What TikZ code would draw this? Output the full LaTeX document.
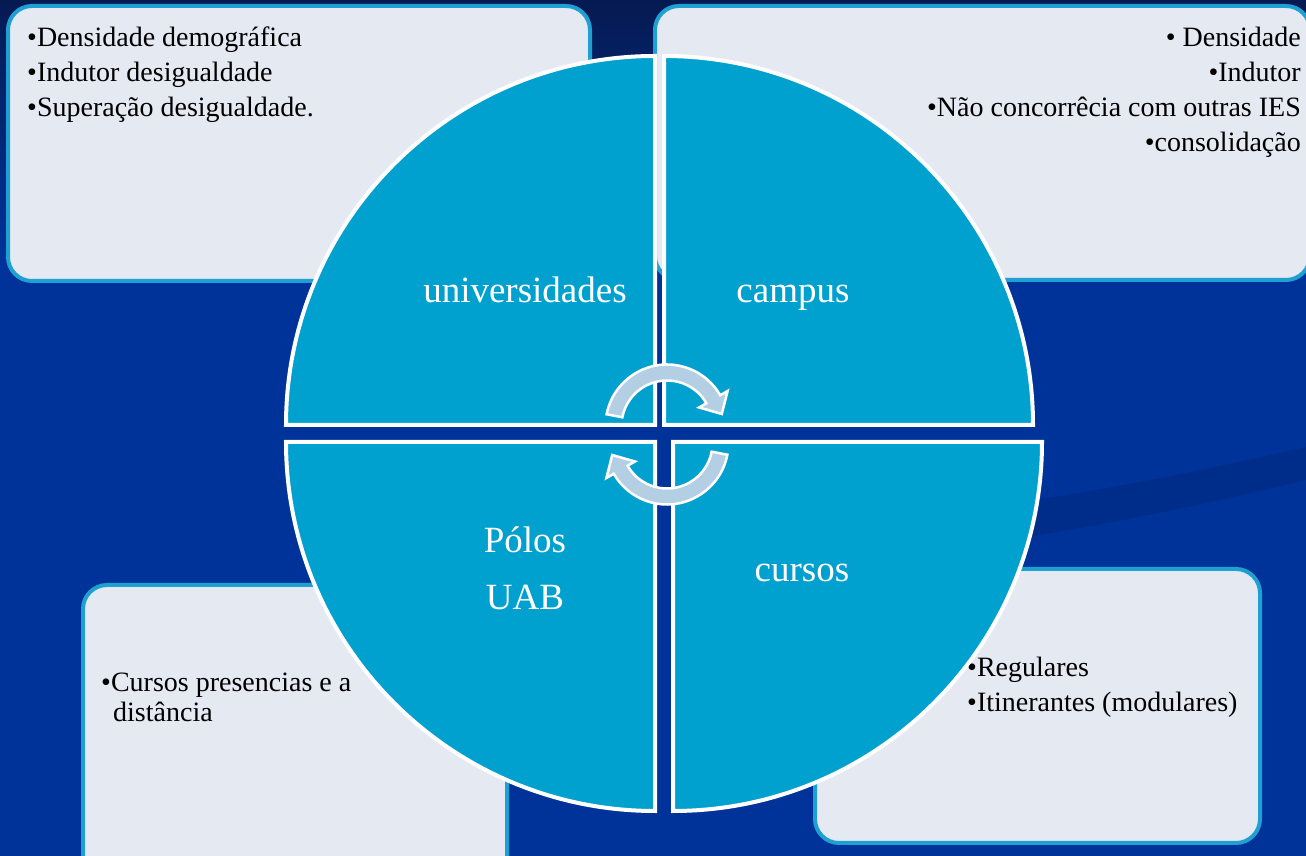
\documentclass[tikz,border=0pt]{standalone}
\usepackage{fontspec}
\setmainfont{Liberation Serif}
\definecolor{navy}{RGB}{0,51,153}
\definecolor{navytop}{RGB}{6,26,82}
\definecolor{swooshc}{RGB}{0,45,138}
\definecolor{boxfill}{RGB}{229,233,242}
\definecolor{boxline}{RGB}{30,160,210}
\definecolor{quadfill}{RGB}{0,160,207}
\definecolor{arrowfill}{RGB}{180,206,228}
\tikzset{
  infobox/.style={draw=boxline, fill=boxfill, line width=4pt, rounded corners=24pt, inner sep=0pt, outer sep=0pt},
  quad/.style={draw=white, fill=quadfill, line width=4pt, line join=miter},
  boxtext/.style={font=\fontsize{28}{35}\selectfont, text=black, inner sep=0pt},
  quadlabel/.style={font=\fontsize{37}{45}\selectfont, text=white, inner sep=0pt},
  cyclearrow/.style={draw=white, fill=arrowfill, line width=2.5pt, line join=miter},
}
\begin{document}
\begin{tikzpicture}[x=1pt,y=1pt]
\useasboundingbox (0,0) rectangle (1306,856);
\clip (0,0) rectangle (1306,856);
% background
\fill[navy] (0,0) rectangle (1306,856);
\shade[top color=navytop, bottom color=navy] (0,600) rectangle (1306,856);
\fill[swooshc] (900,300) .. controls (1050,320) and (1180,345) .. (1306,376)
  -- (1306,409) .. controls (1180,380) and (1050,355) .. (900,338) -- cycle;
% boxes
\node[infobox, anchor=south west, minimum width=582pt, minimum height=275pt] (boxTL) at (8,575) {};
\node[infobox, anchor=south west, minimum width=655pt, minimum height=274pt] (boxTR) at (655,576) {};
\node[infobox, anchor=south west, minimum width=424pt, minimum height=311pt] (boxBL) at (83,-40) {};
\node[infobox, anchor=south west, minimum width=445pt, minimum height=274pt] (boxBR) at (815,13) {};
% box texts
\node[boxtext, anchor=base west] (tl1) at (27,809) {•Densidade demográfica};
\node[boxtext, anchor=base west] (tl2) at (27,774) {•Indutor desigualdade};
\node[boxtext, anchor=base west] (tl3) at (27,739) {•Superação desigualdade.};
\node[boxtext, anchor=base east] (tr1) at (1301,809) {• Densidade};
\node[boxtext, anchor=base east] (tr2) at (1301,774) {•Indutor};
\node[boxtext, anchor=base east] (tr3) at (1301,739) {•Não concorrêcia com outras IES};
\node[boxtext, anchor=base east] (tr4) at (1301,704) {•consolidação};
\node[boxtext, anchor=base west] (bl1) at (101,164) {•Cursos presencias e a};
\node[boxtext, anchor=base west] (bl2) at (113,134) {distância};
\node[boxtext, anchor=base west] (br1) at (967,179) {•Regulares};
\node[boxtext, anchor=base west] (br2) at (967,144) {•Itinerantes (modulares)};
% quadrants
\draw[quad] (655,431) -- (286,431) arc[start angle=180, end angle=90, radius=369] -- cycle;
\draw[quad] (664,431) -- (664,800) arc[start angle=90, end angle=0, radius=369] -- cycle;
\draw[quad] (655,414) -- (655,45) arc[start angle=270, end angle=180, radius=369] -- cycle;
\draw[quad] (673,414) -- (1042,414) arc[start angle=0, end angle=-90, radius=369] -- cycle;
% quadrant labels
\node[quadlabel, anchor=base] (qTL) at (525,553) {universidades};
\node[quadlabel, anchor=base] (qTR) at (793,553) {campus};
\node[quadlabel, anchor=base] (qBL1) at (525,303) {Pólos};
\node[quadlabel, anchor=base] (qBL2) at (525,246) {UAB};
\node[quadlabel, anchor=base] (qBR) at (802,274) {cursos};
% cycle arrows
\begin{scope}[shift={(667,430)}]
\draw[cyclearrow] (169:61.5) arc[start angle=169, end angle=30, radius=61.5]
  -- (30:70) -- (54.8,12.0) -- (30:37) -- (30:45.5)
  arc[start angle=30, end angle=169, radius=45.5] -- cycle;
\end{scope}
\begin{scope}[shift={(667,413)}, rotate=180]
\draw[cyclearrow] (169:61.5) arc[start angle=169, end angle=30, radius=61.5]
  -- (30:70) -- (54.8,12.0) -- (30:37) -- (30:45.5)
  arc[start angle=30, end angle=169, radius=45.5] -- cycle;
\end{scope}
\end{tikzpicture}
\end{document}
